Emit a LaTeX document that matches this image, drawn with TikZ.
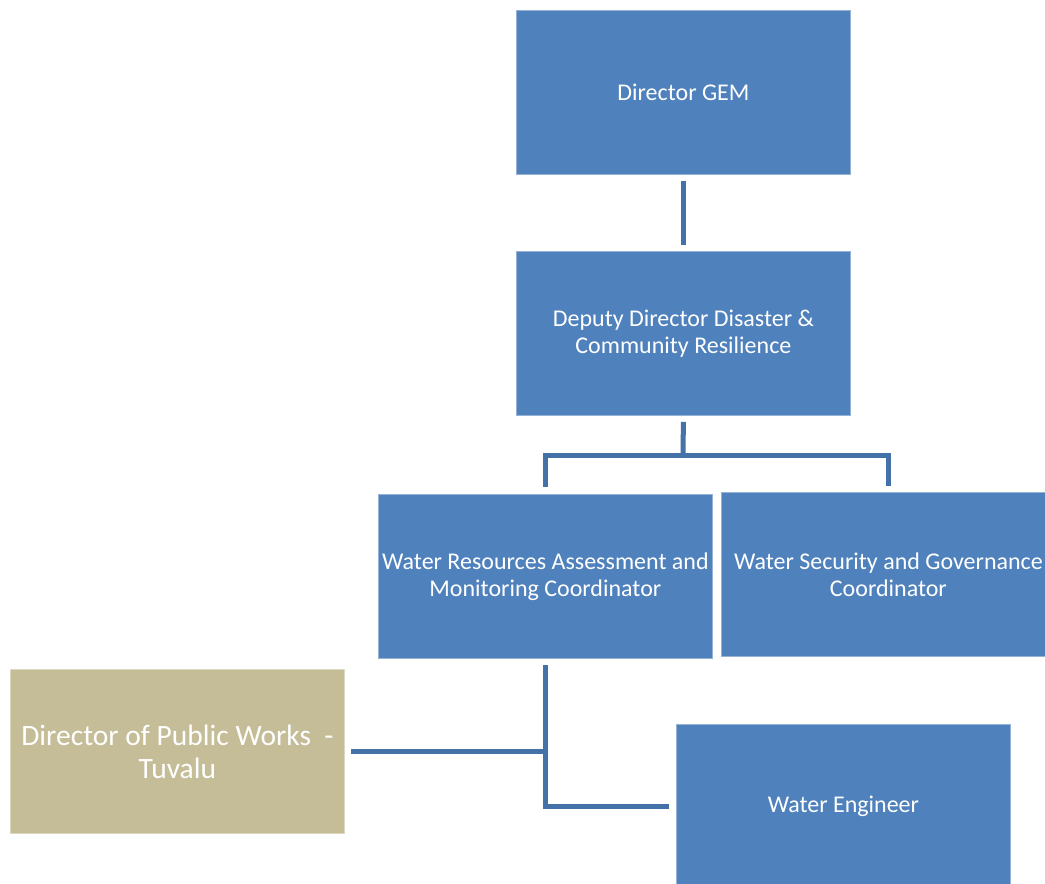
\documentclass[tikz,border=0pt]{standalone}
\usepackage{fontspec}
\setmainfont{Carlito}
\definecolor{boxblue}{HTML}{4F81BD}
\definecolor{lineblue}{HTML}{4371A8}
\definecolor{tan}{HTML}{C4BD97}
\tikzset{
  org/.style={rectangle, fill=boxblue, draw=boxblue!60!white, line width=0.8pt,
    minimum width=334pt, minimum height=164pt, inner sep=2pt, align=center,
    text=white, font=\fontsize{24}{27}\selectfont, anchor=north west},
  tanbox/.style={org, fill=tan, draw=tan!60!white, font=\fontsize{29.5}{33}\selectfont},
  link/.style={draw=lineblue, line width=5pt}
}
\begin{document}
\begin{tikzpicture}[x=1pt,y=-1pt]
\useasboundingbox (0,0) rectangle (1045,884);
\clip (0,0) rectangle (1045,884);
\fill[white] (0,0) rectangle (1045,884);
\node[org] (gem) at (516,10) {Director GEM};
\node[org] (dep) at (516,251) {Deputy Director Disaster \&\\Community Resilience};
\node[org] (wra) at (378,494) {Water Resources Assessment and\\Monitoring Coordinator};
\node[org] (wsg) at (721,492) {Water Security and Governance\\Coordinator};
\node[tanbox] (dpw) at (10,669) {Director of Public Works~~-\\Tuvalu};
\node[org] (we) at (676,724) {Water Engineer};
\coordinate (j1) at (683,455);
\coordinate (j2) at (wra.south |- dpw.east);
\path[link] ([yshift=-6pt]gem.south) -- ([yshift=6pt]dep.north);
\path[link] ([yshift=-6pt]dep.south) -- (j1);
\path[link] (j1) -| ([yshift=7pt]wra.north);
\path[link] (j1) -| ([yshift=6pt]wsg.north);
\path[link] ([yshift=-6pt]wra.south) |- ([xshift=-7pt]we.west);
\path[link] ([xshift=6pt]dpw.east) -- (j2);
\end{tikzpicture}
\end{document}
